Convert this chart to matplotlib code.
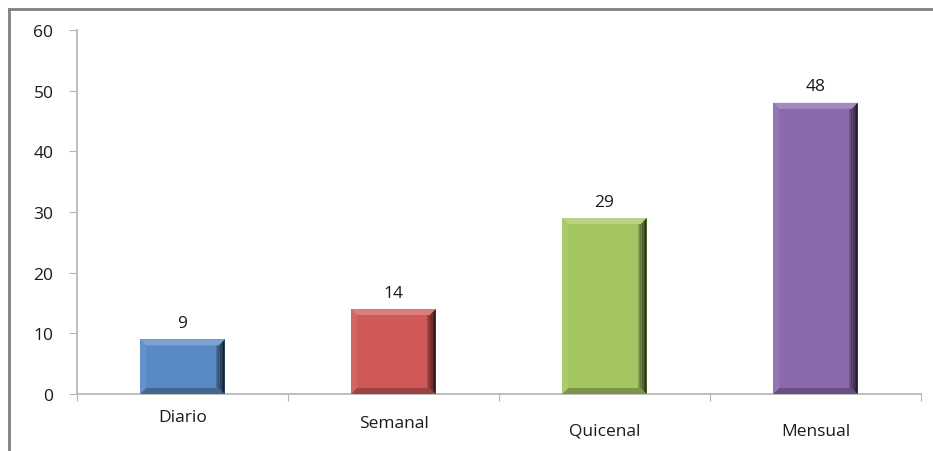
import matplotlib.pyplot as plt
import matplotlib.colors as mc
from matplotlib.patches import Polygon
from matplotlib.lines import Line2D

categories = ["Diario", "Semanal", "Quicenal", "Mensual"]
values = [9, 14, 29, 48]
colors = ["#5889c4", "#cf5956", "#a4c662", "#896bab"]
# how far each category label sits below the axis (pixels), as in the original
label_drop = [23, 29, 37, 37]

plt.rcParams["font.family"] = ["Open Sans", "DejaVu Sans"]

W, H = 933, 452
fig = plt.figure(figsize=(W / 100, H / 100), dpi=100)
ax = fig.add_axes([77 / W, (H - 395) / H, (921 - 77) / W, (395 - 31) / H])

# outer chart frame (only the top and left edges are visible)
fig.add_artist(Line2D([9 / W, 9 / W], [0, (H - 10) / H], color="#808080", lw=2,
                      transform=fig.transFigure))
fig.add_artist(Line2D([9 / W, 1], [(H - 10) / H, (H - 10) / H], color="#808080", lw=2,
                      transform=fig.transFigure))

x = list(range(len(categories)))
bar_w = 0.40
bars = ax.bar(x, values, width=bar_w, color=colors, zorder=2)

ax.set_xlim(-0.5, len(categories) - 0.5)
ax.set_ylim(0, 60)
ax.set_yticks(range(0, 61, 10))

# bevel effect on each bar
px_x = len(categories) / (921 - 77)
px_y = 60 / (395 - 31)


def shade(c, f):
    r, g, b = mc.to_rgb(c)
    if f >= 0:
        return (r + (1 - r) * f, g + (1 - g) * f, b + (1 - b) * f)
    return (r * (1 + f), g * (1 + f), b * (1 + f))


for rect, c in zip(bars, colors):
    x0, y0 = rect.get_x(), rect.get_y()
    x1, y1 = x0 + rect.get_width(), y0 + rect.get_height()
    bx, by = 6 * px_x, 6 * px_y
    top = [(x0, y1), (x1, y1), (x1 - bx, y1 - by), (x0 + bx, y1 - by)]
    bot = [(x0, y0), (x1, y0), (x1 - bx, y0 + by), (x0 + bx, y0 + by)]
    left = [(x0, y0), (x0, y1), (x0 + bx, y1 - by), (x0 + bx, y0 + by)]
    ax.add_patch(Polygon(left, color=shade(c, 0.08), lw=0, zorder=3))
    # right side: a few strips getting darker toward the edge
    steps = 5
    for k in range(steps):
        a = x1 - bx * (1 - k / steps) * 1.4
        b = x1 - bx * (1 - (k + 1) / steps) * 1.4
        f = -0.15 - 0.6 * (k + 1) / steps
        ax.add_patch(Polygon([(a, y0 + by * (1 - k / steps)), (b, y0 + by * (1 - (k + 1) / steps)),
                              (b, y1 - by * (1 - (k + 1) / steps)), (a, y1 - by * (1 - k / steps))],
                             color=shade(c, f), lw=0, zorder=3))
    ax.add_patch(Polygon(top, color=shade(c, 0.22), lw=0, zorder=4))
    ax.add_patch(Polygon(bot, color=shade(c, -0.25), lw=0, zorder=4))

for xi, v in zip(x, values):
    ax.annotate(str(v), (xi, v), xytext=(0, 6), textcoords="offset points",
                ha="center", va="bottom", fontsize=12.5, color="#1a1a1a")

for side in ["top", "right"]:
    ax.spines[side].set_visible(False)
for side in ["left", "bottom"]:
    ax.spines[side].set_color("#b3b3b3")
    ax.spines[side].set_linewidth(1.2)

ax.tick_params(axis="y", length=6, color="#b3b3b3", labelsize=12.5,
               labelcolor="#1a1a1a", pad=11)
ax.set_xticks([i - 0.5 for i in range(len(categories) + 1)])
ax.set_xticklabels([])
ax.tick_params(axis="x", length=5, color="#b3b3b3")

for xi, cat, d in zip(x, categories, label_drop):
    ax.annotate(cat, (xi, 0), xytext=(0, -d * 0.72), textcoords="offset points",
                ha="center", va="center", fontsize=12.5, color="#1a1a1a",
                annotation_clip=False)

fig.savefig("out.png", dpi=100, facecolor="white")
